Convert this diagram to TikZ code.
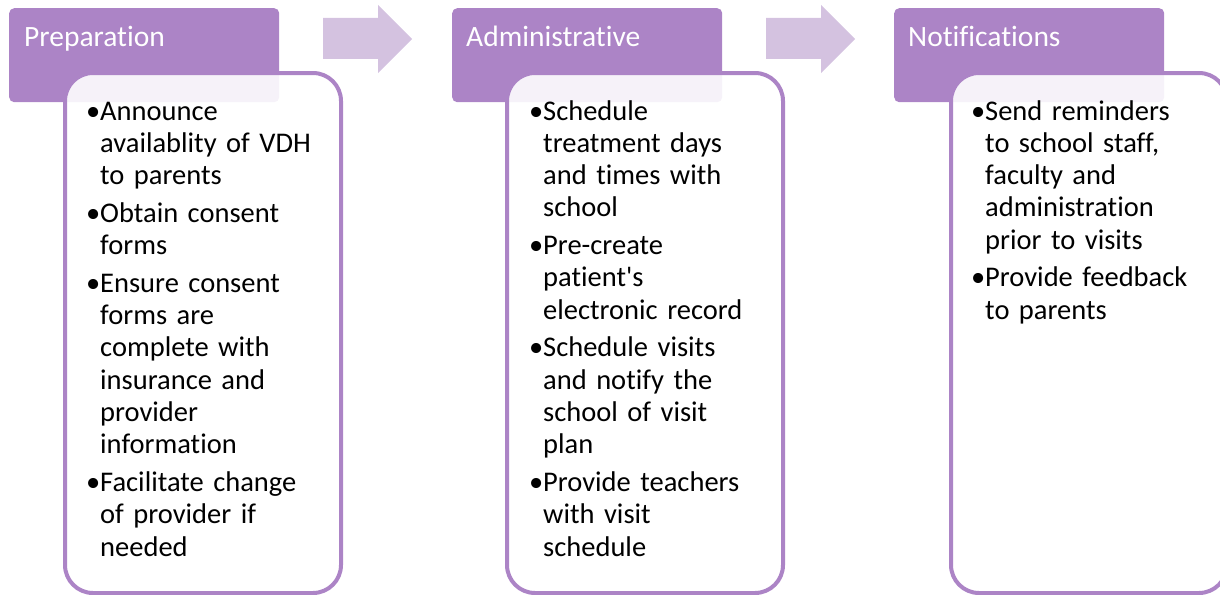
\documentclass[tikz,border=0pt]{standalone}
\usepackage{fontspec}
\setmainfont{Carlito}[Ligatures={TeXOff,NoCommon}]
\definecolor{hdr}{RGB}{172,132,198}
\definecolor{arr}{RGB}{212,194,224}
% bullet hung in the left margin of the text block
\newcommand{\firstbul}{\noindent\llap{•}}
\newcommand{\bul}{\par\noindent\llap{•}}
\tikzset{
  x=1pt, y=-1pt,
  header/.style={fill=hdr, draw=none, rounded corners=5pt, inner sep=0,
    minimum width=270pt, minimum height=94pt, anchor=north west},
  headtext/.style={anchor=base west, inner sep=0, text=white,
    font=\fontsize{29.5}{32}\selectfont},
  card/.style={draw=hdr, line width=4pt, fill=white, fill opacity=0.9,
    draw opacity=1, rounded corners=28pt, inner sep=0,
    minimum width=276pt, minimum height=520pt, anchor=north west},
  cardtext/.style={anchor=base west, inner sep=0, text width=236pt,
    font=\fontsize{28.5}{32.25}\selectfont\setlength{\parskip}{5.6pt}},
  flowarrow/.pic={
    \fill[arr] (0,13) -- (55,13) -- (55,0) -- (89,34) -- (55,68)
      -- (55,54) -- (0,54) -- cycle;
  },
}
\begin{document}
\begin{tikzpicture}
\useasboundingbox (0,0) rectangle (1220,594);

% column headers
\node[header] (h1) at (9,8) {};
\node[header] (h2) at (452,8) {};
\node[header] (h3) at (894,8) {};
\node[headtext] (ht1) at (24,47) {Preparation};
\node[headtext] (ht2) at (466,47) {Administrative};
\node[headtext] (ht3) at (908,47) {Notifications};

% arrows between the columns
\pic at (323,5) {flowarrow};
\pic at (766,5) {flowarrow};

% task cards
\node[card] (c1) at (63,71) {};
\node[card] (c2) at (505,71) {};
\node[card] (c3) at (949,71) {};

\node[cardtext] (l1) at (100,120) {%
\firstbul Announce\newline availablity of VDH\newline to parents
\bul Obtain consent\newline forms
\bul Ensure consent\newline forms are\newline complete with\newline insurance and\newline provider\newline information
\bul Facilitate change\newline of provider if\newline needed};

\node[cardtext] (l2) at (543,120) {%
\firstbul Schedule\newline treatment days\newline and times with\newline school
\bul Pre-create\newline patient's\newline electronic record
\bul Schedule visits\newline and notify the\newline school of visit\newline plan
\bul Provide teachers\newline with visit\newline schedule};

\node[cardtext] (l3) at (985,120) {%
\firstbul Send reminders\newline to school staff,\newline faculty and\newline administration\newline prior to visits
\bul Provide feedback\newline to parents};
\end{tikzpicture}
\end{document}
